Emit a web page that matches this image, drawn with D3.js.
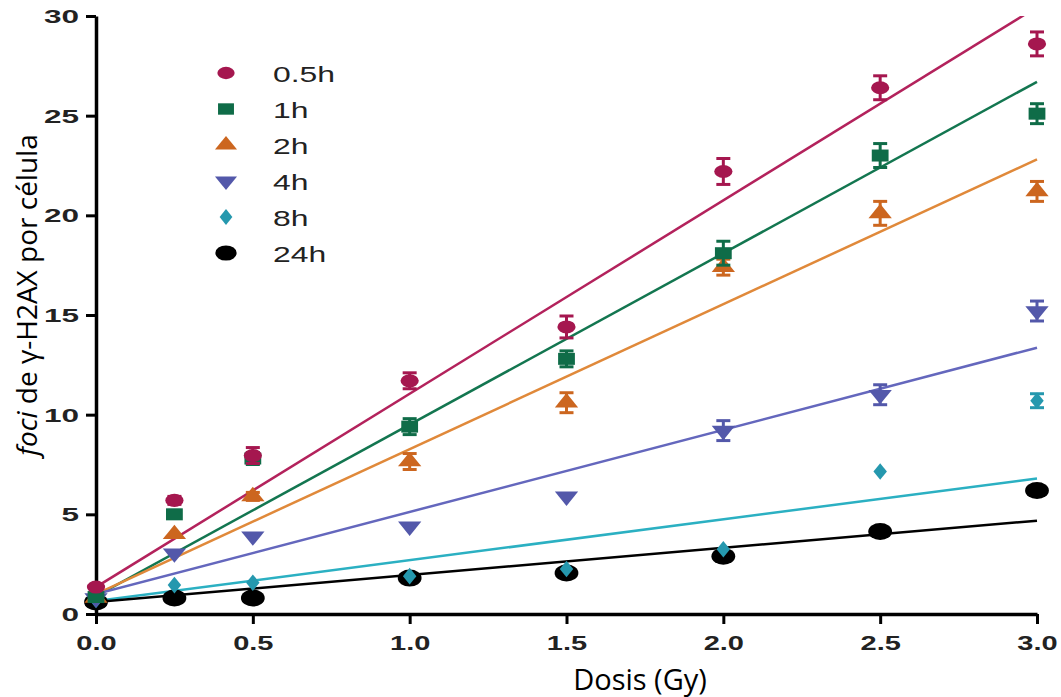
<!DOCTYPE html>
<html>
<head>
<meta charset="utf-8">
<script src="https://cdn.jsdelivr.net/npm/d3@7"></script>
<style>
  body { margin: 0; background: #fff; }
  svg { display: block; }
</style>
</head>
<body>
<svg id="chart"></svg>
<script>
const WIDTH = 1061;
const HEIGHT = 697;

// data
const DOSES = [0, 0.25, 0.5, 1, 1.5, 2, 2.5, 3];
const SERIES = ["0.5h", "1h", "2h", "4h", "8h", "24h"];

const MEAN_05H = [1.35, 5.7, 7.95, 11.7, 14.4, 22.2, 26.4, 28.6];
const ERR_05H  = [0.1, 0.2, 0.4, 0.4, 0.55, 0.65, 0.6, 0.6];
const MEAN_1H  = [0.85, 5.0, 7.8, 9.4, 12.8, 18.1, 23.0, 25.1];
const ERR_1H   = [0.1, 0.2, 0.3, 0.4, 0.4, 0.6, 0.6, 0.5];
const MEAN_2H  = [0.8, 4.0, 5.9, 7.65, 10.6, 17.4, 20.1, 21.2];
const ERR_2H   = [0.1, 0.1, 0.2, 0.4, 0.5, 0.4, 0.6, 0.5];
const MEAN_4H  = [0.8, 3.05, 3.9, 4.4, 5.9, 9.2, 11.0, 15.2];
const ERR_4H   = [0.1, 0.1, 0.1, 0.1, 0.1, 0.5, 0.5, 0.5];
const MEAN_8H  = [0.7, 1.45, 1.57, 1.9, 2.26, 3.25, 7.15, 10.7];
const ERR_8H   = [0, 0, 0, 0, 0, 0, 0, 0.35];
const MEAN_24H = [0.6, 0.8, 0.8, 1.8, 2.06, 2.9, 4.14, 6.2];
const ERR_24H  = [0, 0, 0, 0, 0, 0, 0, 0];

// linear fits as drawn
const FIT_INTERCEPT = [1.35, 0.9, 1.0, 1.0, 0.65, 0.6];
const FIT_SLOPE     = [9.7, 8.6, 7.27, 4.12, 2.05, 1.36];

const X_TICKS = [0, 0.5, 1, 1.5, 2, 2.5, 3];
const Y_TICKS = [0, 5, 10, 15, 20, 25, 30];

const MEANS = [MEAN_05H, MEAN_1H, MEAN_2H, MEAN_4H, MEAN_8H, MEAN_24H];
const ERRS = [ERR_05H, ERR_1H, ERR_2H, ERR_4H, ERR_8H, ERR_24H];

const markerColor = ["#a5174f", "#0f6c48", "#cc661f", "#5358aa", "#2598ae", "#000000"];
const lineColor = ["#b3225c", "#137650", "#e0893a", "#6467bd", "#2bb0c2", "#000000"];
const symbols = [d3.symbolCircle, d3.symbolSquare, d3.symbolTriangle, d3.symbolTriangle, d3.symbolDiamond, d3.symbolCircle];
const symSize = [133, 144, 120, 120, 80, 227];
const flipY = [1, 1, 1, -1, 1, 1];
const STRETCH = 1.4; // the original picture is stretched sideways

const svg = d3.select("#chart")
    .attr("width", WIDTH)
    .attr("height", HEIGHT);

const x = d3.scaleLinear().domain([0, 3]).range([96, 1037]);
const y = d3.scaleLinear().domain([0, 30]).range([614, 16]);

// axes
const xAxis = svg.append("g")
    .attr("transform", "translate(0," + y(0) + ")")
    .call(d3.axisBottom(x).tickValues(X_TICKS).tickSize(10).tickSizeOuter(0).tickFormat(d3.format(".1f")));
const yAxis = svg.append("g")
    .attr("transform", "translate(" + x(0) + ",0)")
    .call(d3.axisLeft(y).tickValues(Y_TICKS).tickSize(10).tickSizeOuter(0));

[xAxis, yAxis].forEach(function(a) {
    a.select(".domain").attr("stroke", "#000").attr("stroke-width", 3.5);
    a.selectAll(".tick line").attr("stroke", "#000").attr("stroke-width", 3);
    a.selectAll("text")
        .attr("fill", "#222")
        .style("font-family", "Liberation Sans, Arial, sans-serif")
        .style("font-weight", "bold");
});

xAxis.selectAll("text")
    .style("font-size", "20px")
    .attr("y", 0)
    .attr("dy", 0)
    .attr("transform", function() {
        return "translate(0,36) scale(1.45,1)";
    });

yAxis.selectAll("text")
    .style("font-size", "18px")
    .attr("x", 0)
    .attr("dy", "0.36em")
    .attr("transform", "translate(-17,0) scale(1.75,1)");

// fit lines, clipped to the top of the plot
svg.append("clipPath").attr("id", "plotclip")
    .append("rect")
    .attr("x", x(0)).attr("y", y(30))
    .attr("width", x(3) - x(0) + 2).attr("height", y(0) - y(30));

const lines = svg.append("g").attr("clip-path", "url(#plotclip)");
SERIES.forEach(function(s, i) {
    lines.append("line")
        .attr("x1", x(0)).attr("y1", y(FIT_INTERCEPT[i]))
        .attr("x2", x(3)).attr("y2", y(FIT_INTERCEPT[i] + FIT_SLOPE[i] * 3))
        .attr("stroke", lineColor[i])
        .attr("stroke-width", 2.5);
});

// points, drawn from the last series to the first
const pts = svg.append("g");
for (let i = SERIES.length - 1; i >= 0; i--) {
    const g = pts.append("g");
    DOSES.forEach(function(d, j) {
        const cx = x(d), cy = y(MEANS[i][j]);
        const e = ERRS[i][j];
        if (e > 0.15) {
            const eb = g.append("g").attr("stroke", markerColor[i]).attr("stroke-width", 3);
            eb.append("line").attr("x1", cx).attr("x2", cx).attr("y1", y(MEANS[i][j] - e)).attr("y2", y(MEANS[i][j] + e));
            eb.append("line").attr("x1", cx - 7).attr("x2", cx + 7).attr("y1", y(MEANS[i][j] - e)).attr("y2", y(MEANS[i][j] - e));
            eb.append("line").attr("x1", cx - 7).attr("x2", cx + 7).attr("y1", y(MEANS[i][j] + e)).attr("y2", y(MEANS[i][j] + e));
        }
        g.append("path")
            .attr("d", d3.symbol().type(symbols[i]).size(symSize[i])())
            .attr("fill", markerColor[i])
            .attr("transform", "translate(" + cx + "," + cy + ") scale(" + STRETCH + "," + flipY[i] + ")");
    });
}

// legend
const legend = svg.selectAll(".legend")
    .data(SERIES)
    .enter().append("g")
    .attr("class", "legend")
    .attr("transform", function(d, i) { return "translate(226," + (73 + i * 36) + ")"; });

legend.append("path")
    .attr("d", function(d, i) { return d3.symbol().type(symbols[i]).size(symSize[i] * (i === 5 ? 0.8 : 0.9))(); })
    .attr("fill", function(d, i) { return markerColor[i]; })
    .attr("transform", function(d, i) { return "scale(" + STRETCH + "," + flipY[i] + ")"; });

legend.append("text")
    .attr("transform", "translate(47,9) scale(1.45,1)")
    .style("font-family", "Liberation Sans, Arial, sans-serif")
    .style("font-size", "22px")
    .attr("fill", "#222")
    .text(function(d) { return d; });

// axis titles
svg.append("text")
    .attr("x", 640)
    .attr("y", 690)
    .attr("text-anchor", "middle")
    .style("font-family", "Open Sans, sans-serif")
    .style("font-size", "29px")
    .attr("fill", "#000")
    .text("Dosis (Gy)");

const yTitle = svg.append("text")
    .attr("transform", "translate(37,295) rotate(-90)")
    .attr("text-anchor", "middle")
    .style("font-family", "Open Sans, sans-serif")
    .style("font-size", "28px")
    .attr("fill", "#000");
yTitle.append("tspan").style("font-style", "italic").text("foci");
yTitle.append("tspan").text(" de γ-H2AX por célula");
</script>
</body>
</html>
